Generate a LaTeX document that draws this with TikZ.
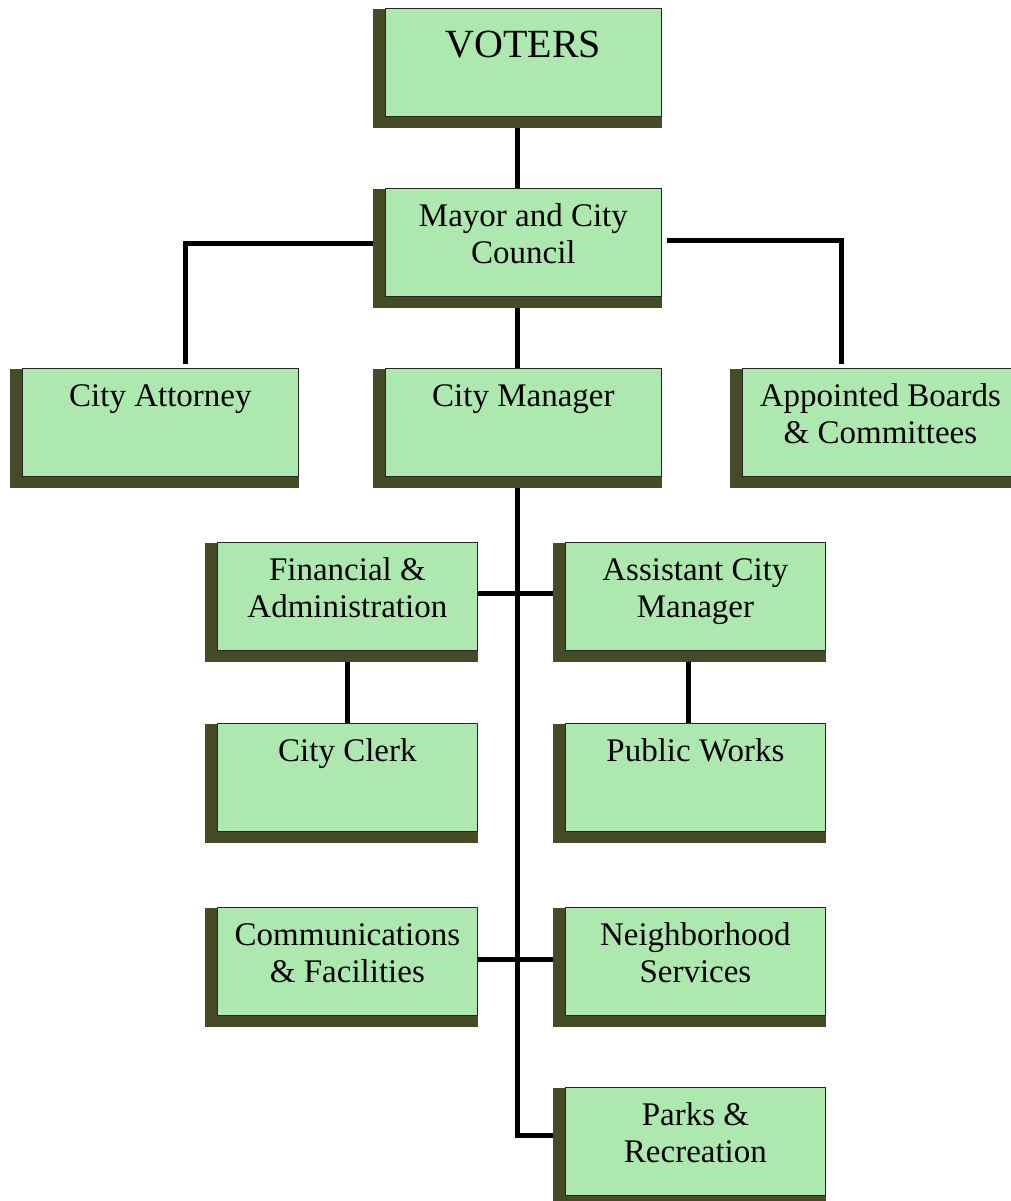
\documentclass[tikz,border=0pt]{standalone}
\usepackage{fontspec}
\setmainfont{Liberation Serif}
\usetikzlibrary{backgrounds,calc}
\definecolor{boxgreen}{HTML}{ADE9AF}
\definecolor{shadowc}{HTML}{464A26}
\newcommand{\twoline}[2]{\begin{tabular}[t]{@{}c@{}}#1\\#2\end{tabular}}
\tikzset{
  box/.style={draw=black!85, line width=0.8pt, fill=boxgreen,
    minimum width=#1, minimum height=108pt, inner sep=0pt,
    text height=38pt, text depth=70pt, anchor=north west,
    font=\fontsize{33}{37.5}\selectfont},
  box/.default=276pt,
  link/.style={line width=5pt, draw=black},
  shadowbox/.style={fill=shadowc}
}
\begin{document}
\begin{tikzpicture}[x=1pt,y=-1pt]
\useasboundingbox (0,0) rectangle (1011,1201);
\clip (0,0) rectangle (1011,1201);
% boxes
\node[box, text height=49pt, text depth=59pt, font=\fontsize{40}{46}\selectfont] (voters) at (385,8) {VOTERS};
\node[box] (mayor) at (385,188) {\twoline{Mayor and City}{Council}};
\node[box] (att) at (22,368) {City Attorney};
\node[box] (cm) at (385,368) {City Manager};
\node[box] (app) at (742,368) {\twoline{Appointed Boards}{\& Committees}};
\node[box=260pt] (fin) at (217,542) {\twoline{Financial \&}{Administration}};
\node[box=260pt] (asst) at (565,542) {\twoline{Assistant City}{Manager}};
\node[box=260pt] (clerk) at (217,723) {City Clerk};
\node[box=260pt] (pw) at (565,723) {Public Works};
\node[box=260pt] (comm) at (217,907) {\twoline{Communications}{\& Facilities}};
\node[box=260pt] (nbh) at (565,907) {\twoline{Neighborhood}{Services}};
\node[box=260pt] (parks) at (565,1087) {\twoline{Parks \&}{Recreation}};
% coordinates
\coordinate (spine) at (517,0);
\coordinate (attc) at (185,364);
\coordinate (mr) at (667,240);
\coordinate (appc) at (841.5,364);
\begin{scope}[on background layer]
  \draw[link] (voters.south -| spine) -- (mayor.north -| spine);
  \draw[link] (mayor.south -| spine) -- (cm.north -| spine);
  \draw[link] ([yshift=-1pt]mayor.west) -| (attc);
  \draw[link] (mr) -| (appc);
  \draw[link] (cm.south -| spine) |- ([yshift=6pt]parks.west);
  \draw[link] ([yshift=3pt]fin.east) -- ([yshift=3pt]asst.west);
  \draw[link] ([yshift=2pt]comm.east) -- ([yshift=2pt]nbh.west);
  \draw[link] (fin.south) -- (clerk.north);
  \draw[link] ([xshift=-7pt]asst.south) -- ([xshift=-7pt]pw.north);
  \foreach \n in {voters,mayor,att,cm,app,fin,asst,clerk,pw,comm,nbh,parks}
    \fill[shadowbox] ([xshift=-12pt,yshift=-1pt]\n.north west) rectangle ([yshift=-11pt]\n.south east);
\end{scope}
\end{tikzpicture}
\end{document}
